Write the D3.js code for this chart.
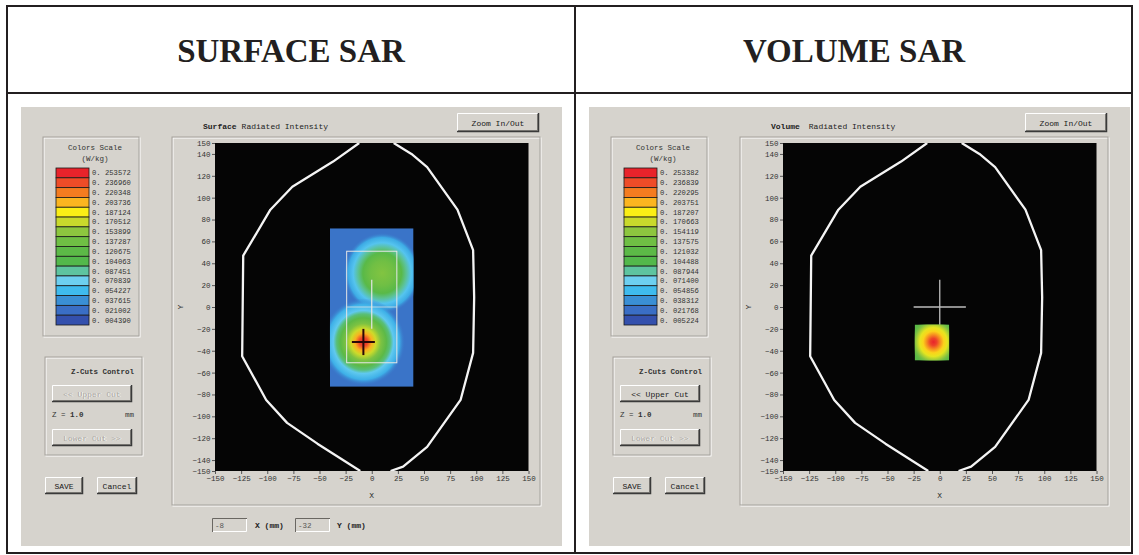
<!DOCTYPE html>
<html><head><meta charset="utf-8">
<script src="https://cdn.jsdelivr.net/npm/d3@7"></script>
<style>
body{margin:0;background:#fff}
svg{display:block}
.gui{font-family:"Liberation Mono","DejaVu Sans Mono",monospace;}
</style></head>
<body><svg id="c" width="1139" height="555"></svg>
<script>
// ---------------- data ----------------
const headerTitles = ["SURFACE SAR", "VOLUME SAR"];
const plotKinds = ["Surface", "Volume"];
const legendColors = ["#e8232b","#ee4c28","#f47c20","#fbb520","#fbee16","#c9d92c","#8dc63f","#6fbf44",
                      "#5cb947","#53b84b","#5ec4a0","#6dcff0","#3fbbee","#3a8fd5","#3a6ec5","#3450ad"];
const surfaceLegend = [0.253572,0.236960,0.220348,0.203736,0.187124,0.170512,0.153899,0.137287,
                       0.120675,0.104063,0.087451,0.070839,0.054227,0.037615,0.021002,0.004390];
const volumeLegend  = [0.253382,0.236839,0.220295,0.203751,0.187207,0.170663,0.154119,0.137575,
                       0.121032,0.104488,0.087944,0.071400,0.054856,0.038312,0.021768,0.005224];
const xTicks = [-150,-125,-100,-75,-50,-25,0,25,50,75,100,125,150];
const yTicks = [150,140,120,100,80,60,40,20,0,-20,-40,-60,-80,-100,-120,-140,-150];
// head outline (mm)
const headLeftSide  = [[-12,150],[-37,133],[-76,110],[-97,89],[-123,47],[-124,-45],[-101,-85],[-81,-106],[-52,-125],[-11,-150]];
const headRightSide = [[18,-150],[30,-146],[53,-128],[85,-85],[97,-42],[98,9],[97,52],[82,89],[53,128],[38,140],[21,150]];
// surface SAR field
const surfaceRegionX = [-40, 40];
const surfaceRegionY = [-73, 72];
const surfaceBase = 0.024;
const surfaceSpots = [
  {cx:10, cy:31, r:37, stops:[[0,0.148],[0.3,0.138],[0.5,0.115],[0.62,0.09],[0.75,0.062],[0.88,0.048],[1,0.024]]},
  {cx:-8, cy:-32, r:40, stops:[[0,0.2536],[0.1,0.238],[0.2,0.205],[0.3,0.172],[0.42,0.145],[0.55,0.12],[0.64,0.095],[0.72,0.066],[0.86,0.05],[1,0.024]]}
];
const surfaceBoxX = [-24, 24];
const surfaceBoxY = [-51, 51];
const surfacePeak = [-8, -32];
// volume SAR field
const volumeRegionX = [-24, 9];
const volumeRegionY = [-49, -16];
const volumeBase = 0.12;
const volumeSpots = [
  {cx:-6, cy:-32, r:22, stops:[[0,0.2534],[0.15,0.24],[0.3,0.215],[0.45,0.195],[0.6,0.18],[0.78,0.155],[1,0.12]]}
];
const crossArm = 25;
const fieldX = ["-8", "-32"];

// ---------------- drawing ----------------
const svg = d3.select("#c");
const defs = svg.append("defs");
const GRAY = "#d6d3cd";

// table frame
svg.append("rect").attr("x",7).attr("y",6).attr("width",1125).attr("height",547)
  .attr("fill","none").attr("stroke","#231f20").attr("stroke-width",2);
svg.append("line").attr("x1",7).attr("x2",1132).attr("y1",93).attr("y2",93).attr("stroke","#231f20").attr("stroke-width",2);
svg.append("line").attr("x1",575).attr("x2",575).attr("y1",6).attr("y2",553).attr("stroke","#231f20").attr("stroke-width",2);
headerTitles.forEach((t,i)=>{
  svg.append("text").attr("x", i===0 ? 291 : 854).attr("y",62).attr("text-anchor","middle")
    .attr("font-family","'Liberation Serif','Times New Roman',serif").attr("font-weight","bold")
    .attr("font-size",33).attr("fill","#231f20").text(t);
});

function button(g, x, y, w, h, label, enabled){
  const b = g.append("g");
  b.append("rect").attr("x",x).attr("y",y).attr("width",w).attr("height",h).attr("fill",GRAY);
  b.append("path").attr("d",`M${x+0.5},${y+h}V${y+0.5}H${x+w}`).attr("stroke","#fff").attr("fill","none");
  b.append("path").attr("d",`M${x+1},${y+h-1.5}H${x+w-1.5}V${y+1}`).attr("stroke","#8a8782").attr("fill","none");
  b.append("path").attr("d",`M${x},${y+h-0.5}H${x+w-0.5}V${y}`).attr("stroke","#3a3a3a").attr("fill","none").attr("stroke-width",1.5);
  if(!enabled){
    b.append("text").attr("class","gui").attr("x",x+w/2+0.8).attr("y",y+h/2+3.8).attr("text-anchor","middle")
      .attr("font-size",8).attr("fill","#fff").text(label);
  }
  b.append("text").attr("class","gui").attr("x",x+w/2).attr("y",y+h/2+3).attr("text-anchor","middle")
    .attr("font-size",8).attr("fill",enabled?"#1a1a1a":"#a9a6a0").text(label);
}
function etched(g,x,y,w,h){
  g.append("rect").attr("x",x+1).attr("y",y+1).attr("width",w).attr("height",h).attr("fill","none").attr("stroke","#fff");
  g.append("rect").attr("x",x).attr("y",y).attr("width",w).attr("height",h).attr("fill","none").attr("stroke","#a5a29c");
}

function drawPanel(idx){
  const dx = idx*568;
  const legendVals = idx===0 ? surfaceLegend : volumeLegend;
  const g = svg.append("g").attr("transform",`translate(${dx},0)`);
  g.append("rect").attr("x",21).attr("y",107).attr("width",541).attr("height",439).attr("fill",GRAY);

  const color = d3.scaleLinear().domain(legendVals.slice().reverse()).range(legendColors.slice().reverse())
    .interpolate(d3.interpolateRgb).clamp(true);

  // ---- legend box ----
  etched(g,43,137,96,199);
  g.append("text").attr("class","gui").attr("x",95).attr("y",150).attr("text-anchor","middle").attr("font-size",7.5).attr("fill","#333").text("Colors Scale");
  g.append("text").attr("class","gui").attr("x",95).attr("y",161).attr("text-anchor","middle").attr("font-size",7.5).attr("fill","#333").text("(W/kg)");
  const ly = d3.scaleBand().domain(d3.range(legendVals.length)).range([168,325]);
  g.selectAll(".sw").data(legendVals).join("rect")
    .attr("x",56).attr("y",(d,i)=>ly(i)).attr("width",33).attr("height",ly.bandwidth())
    .attr("fill",(d,i)=>legendColors[i]).attr("stroke","#1a1a1a").attr("stroke-width",0.8);
  g.selectAll(".lt").data(legendVals).join("text").attr("class","gui")
    .attr("x",92).attr("y",(d,i)=>ly(i)+ly.bandwidth()/2+2.5).attr("font-size",7.2).attr("fill","#333")
    .text(d=>"0. "+d.toFixed(6).slice(2));

  // ---- Z-cuts ----
  etched(g,45,357,97,98);
  g.append("text").attr("class","gui").attr("x",134).attr("y",374).attr("text-anchor","end").attr("font-size",7.5)
    .attr("font-weight","bold").attr("fill","#333").text("Z-Cuts Control");
  button(g,52,385,80,17,"<< Upper Cut", idx===1);
  const zt = g.append("text").attr("class","gui").attr("x",52).attr("y",417).attr("font-size",7.5).attr("fill","#333");
  zt.append("tspan").text("Z = ");
  zt.append("tspan").attr("font-weight","bold").text("1.0");
  g.append("text").attr("class","gui").attr("x",125).attr("y",417).attr("font-size",7.5).attr("fill","#333").text("mm");
  button(g,52,429,80,17,"Lower Cut >>", false);
  button(g,45,477,38,17,"SAVE", true);
  button(g,97,477,40,17,"Cancel", true);

  // ---- plot area ----
  etched(g,172,137,368,368);
  const title = g.append("text").attr("class","gui").attr("x",203).attr("y",129).attr("font-size",8).attr("fill","#222");
  title.append("tspan").attr("font-weight","bold").text(plotKinds[idx]);
  title.append("tspan").attr("dx",idx===0?5:9).text("Radiated Intensity");
  button(g,457,113,82,19,"Zoom In/Out", true);

  const x = d3.scaleLinear().domain([-150,150]).range([215,528.5]);
  const y = d3.scaleLinear().domain([-150,150]).range([471,143]);
  g.append("rect").attr("x",x(-150)).attr("y",y(150)).attr("width",x(150)-x(-150)).attr("height",y(-150)-y(150)).attr("fill","#050505");

  const clipId = "clip"+idx;
  defs.append("clipPath").attr("id",clipId).append("rect")
    .attr("x",x(-150)).attr("y",y(150)).attr("width",x(150)-x(-150)).attr("height",y(-150)-y(150));
  const plot = g.append("g").attr("clip-path",`url(#${clipId})`);

  const rx = idx===0 ? surfaceRegionX : volumeRegionX;
  const ry = idx===0 ? surfaceRegionY : volumeRegionY;
  const base = idx===0 ? surfaceBase : volumeBase;
  const spots = idx===0 ? surfaceSpots : volumeSpots;

  if(idx===1){
    plot.append("line").attr("x1",x(-crossArm)).attr("x2",x(crossArm)).attr("y1",y(0)).attr("y2",y(0)).attr("stroke","#bdbdbd").attr("stroke-width",1.3);
    plot.append("line").attr("x1",x(0)).attr("x2",x(0)).attr("y1",y(crossArm)).attr("y2",y(-crossArm)).attr("stroke","#bdbdbd").attr("stroke-width",1.3);
  }

  const fid = "field"+idx;
  defs.append("clipPath").attr("id",fid).append("rect")
    .attr("x",x(rx[0])).attr("y",y(ry[1])).attr("width",x(rx[1])-x(rx[0])).attr("height",y(ry[0])-y(ry[1]));
  const field = plot.append("g").attr("clip-path",`url(#${fid})`);
  field.append("rect").attr("x",x(rx[0])).attr("y",y(ry[1])).attr("width",x(rx[1])-x(rx[0])).attr("height",y(ry[0])-y(ry[1]))
    .attr("fill",color(base));
  spots.forEach((s,k)=>{
    const gid = `grad${idx}_${k}`;
    const gr = defs.append("radialGradient").attr("id",gid);
    gr.selectAll("stop").data(s.stops).join("stop")
      .attr("offset",d=>d[0]).attr("stop-color",d=>color(d[1]))
      .attr("stop-opacity",(d,i)=> i===s.stops.length-1 ? 0 : 1);
    field.append("ellipse").attr("cx",x(s.cx)).attr("cy",y(s.cy))
      .attr("rx",x(s.r)-x(0)).attr("ry",y(0)-y(s.r)).attr("fill",`url(#${gid})`);
  });

  if(idx===0){
    plot.append("rect").attr("x",x(surfaceBoxX[0])).attr("y",y(surfaceBoxY[1]))
      .attr("width",x(surfaceBoxX[1])-x(surfaceBoxX[0])).attr("height",y(surfaceBoxY[0])-y(surfaceBoxY[1]))
      .attr("fill","none").attr("stroke","#e6e6e6").attr("stroke-width",1);
    plot.append("line").attr("x1",x(surfaceBoxX[0])).attr("x2",x(surfaceBoxX[1])).attr("y1",y(0)).attr("y2",y(0)).attr("stroke","#e6e6e6").attr("stroke-opacity",0.7);
    plot.append("line").attr("x1",x(0)).attr("x2",x(0)).attr("y1",y(crossArm)).attr("y2",y(-20)).attr("stroke","#e6e6e6").attr("stroke-width",1.2);
    plot.append("line").attr("x1",x(surfacePeak[0]-11)).attr("x2",x(surfacePeak[0]+11)).attr("y1",y(surfacePeak[1])).attr("y2",y(surfacePeak[1])).attr("stroke","#2a0808").attr("stroke-width",2);
    plot.append("line").attr("x1",x(surfacePeak[0])).attr("x2",x(surfacePeak[0])).attr("y1",y(surfacePeak[1]+12)).attr("y2",y(surfacePeak[1]-12)).attr("stroke","#2a0808").attr("stroke-width",2);
  }

  const line = d3.line().x(d=>x(d[0])).y(d=>y(d[1]));
  [headLeftSide, headRightSide].forEach(p=>{
    plot.append("path").attr("d",line(p)).attr("fill","none").attr("stroke","#f4f4f4").attr("stroke-width",2.3).attr("stroke-linejoin","round");
  });

  const ax = g.append("g").attr("transform",`translate(0,${y(-150)})`)
    .call(d3.axisBottom(x).tickValues(xTicks).tickSize(3).tickPadding(2));
  const ay = g.append("g").attr("transform",`translate(${x(-150)},0)`)
    .call(d3.axisLeft(y).tickValues(yTicks).tickSize(3).tickPadding(1.5));
  [ax, ay].forEach(a=>{
    a.select(".domain").remove();
    a.selectAll(".tick line").attr("stroke","#555");
    a.selectAll("text").attr("class","gui").attr("font-size",7.5).attr("fill","#333").attr("font-family",'"Liberation Mono",monospace');
  });
  g.append("text").attr("class","gui").attr("x",(x(-150)+x(150))/2).attr("y",498).attr("text-anchor","middle").attr("font-size",8).attr("fill","#333").text("X");
  g.append("text").attr("class","gui").attr("transform",`translate(183,${y(0)}) rotate(-90)`).attr("text-anchor","middle").attr("font-size",8).attr("fill","#333").text("Y");

  if(idx===0){
    [[212,"-8",255,"X (mm)"],[295,"-32",337,"Y (mm)"]].forEach((f,i)=>{
      g.append("rect").attr("x",f[0]).attr("y",518).attr("width",35).attr("height",14).attr("fill",GRAY);
      g.append("path").attr("d",`M${f[0]+0.5},${532}V${518.5}H${f[0]+35}`).attr("stroke","#6a6762").attr("fill","none");
      g.append("path").attr("d",`M${f[0]+1},${531.5}H${f[0]+34.5}V${519}`).attr("stroke","#fff").attr("fill","none");
      g.append("text").attr("class","gui").attr("x",f[0]+3).attr("y",528).attr("font-size",7.5).attr("fill","#555").text(fieldX[i]);
      g.append("text").attr("class","gui").attr("x",f[2]).attr("y",528).attr("font-size",8).attr("font-weight","bold").attr("fill","#222").text(f[3]);
    });
  }
}
drawPanel(0);
drawPanel(1);
</script></body></html>
